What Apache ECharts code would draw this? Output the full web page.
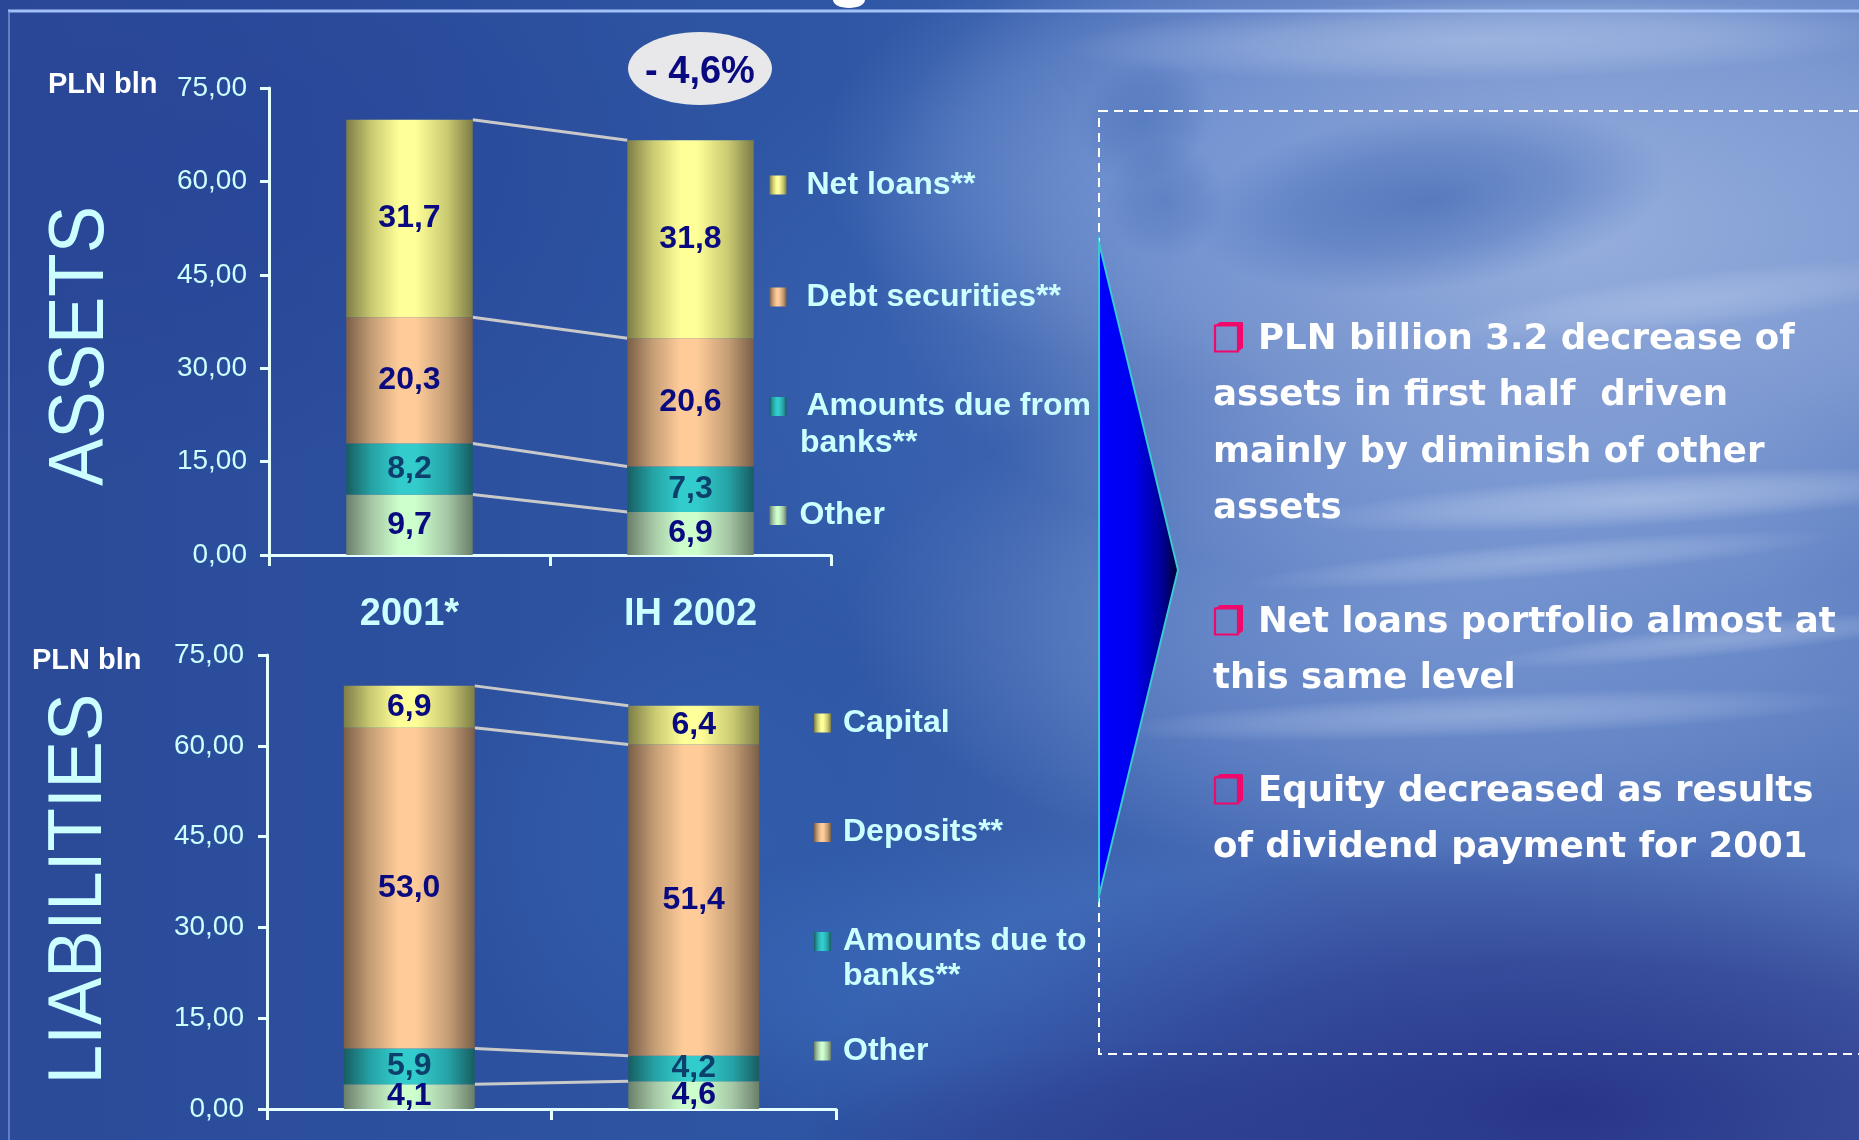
<!DOCTYPE html>
<html>
<head>
<meta charset="utf-8">
<script src="https://cdn.jsdelivr.net/npm/echarts@6/dist/echarts.min.js"></script>
<style>
  html, body { margin: 0; padding: 0; background: #2d4f9e; }
  #chart { width: 1859px; height: 1140px; }
</style>
</head>
<body>
<div id="chart"></div>
<script>
// ---- data -------------------------------------------------------------
const categories = ['2001*', 'IH 2002'];

// assets, PLN bln (bottom to top of the stack)
const assetOther = [9.7, 6.9];
const assetDueFromBanks = [8.2, 7.3];
const assetDebtSecurities = [20.3, 20.6];
const assetNetLoans = [31.7, 31.8];

// liabilities, PLN bln (bottom to top of the stack)
const liabOther = [4.1, 4.6];
const liabDueToBanks = [5.9, 4.2];
const liabDeposits = [53.0, 51.4];
const liabCapital = [6.9, 6.4];

// value axis
const axisMin = 0;
const axisMax = 75;
const axisStep = 15;

const assetChange = '- 4,6%';

const bullets = [
  ['PLN billion 3.2 decrease of', 'assets in first half  driven', 'mainly by diminish of other', 'assets'],
  ['Net loans portfolio almost at', 'this same level'],
  ['Equity decreased as results', 'of dividend payment for 2001']
];

// ---- helpers ----------------------------------------------------------
const SANS = 'Liberation Sans, Arial, sans-serif';
const LIGHT = '#ccffff';
const NAVY = '#0a0a80';
const TEALTEXT = '#0d3f6c';

const fmt1 = v => v.toFixed(1).replace('.', ',');
const fmt2 = v => v.toFixed(2).replace('.', ',');

function cylinder(edge, mid, light) {
  return new echarts.graphic.LinearGradient(0, 0, 1, 0, [
    { offset: 0, color: edge },
    { offset: 0.2, color: mid },
    { offset: 0.42, color: light },
    { offset: 0.55, color: light },
    { offset: 0.8, color: mid },
    { offset: 1, color: edge }
  ]);
}
const YELLOW = ['#7d7d47', '#c9c971', '#ffff99'];
const PEACH = ['#7a5f47', '#c49d75', '#ffcc99'];
const TEAL = ['#175d61', '#25a2a5', '#33cccc'];
const GREEN = ['#6a7f69', '#a5c6a5', '#ccffcc'];

function cumulative(layers) {
  const out = [];
  let run = layers[0].map(() => 0);
  layers.forEach(l => {
    run = run.map((r, i) => r + l[i]);
    out.push(run.slice());
  });
  return out;
}

function bar(name, data, grid, stack, colors, labelColor, width) {
  return {
    name, type: 'bar', stack, data,
    xAxisIndex: grid, yAxisIndex: grid,
    barWidth: width,
    itemStyle: { color: cylinder(colors[0], colors[1], colors[2]) },
    label: {
      show: true, position: 'inside',
      formatter: p => fmt1(p.value),
      color: labelColor, fontSize: 32, fontWeight: 'bold', fontFamily: SANS
    },
    emphasis: { disabled: true },
    z: 3
  };
}

// thin lines joining matching stack levels of the two bars
function connectors(grid, layers, ratio) {
  const cum = cumulative(layers);
  return {
    type: 'custom', xAxisIndex: grid, yAxisIndex: grid, silent: true, z: 2,
    data: cum.map(c => [0, c[0], c[1]]),
    encode: { x: 0, y: [1, 2] },
    renderItem(params, api) {
      const half = api.size([1, 0])[0] * ratio / 2;
      const a = api.coord([0, api.value(1)]);
      const b = api.coord([1, api.value(2)]);
      return {
        type: 'line',
        shape: { x1: a[0] + half, y1: a[1], x2: b[0] - half, y2: b[1] },
        style: { stroke: '#c9c9c9', lineWidth: 3 }
      };
    }
  };
}

function xAxis(grid, showLabels) {
  return {
    gridIndex: grid, type: 'category', data: categories,
    axisLine: { lineStyle: { color: '#e6ffff', width: 3 } },
    axisTick: { show: true, length: 11, lineStyle: { color: '#e6ffff', width: 3 } },
    axisLabel: {
      show: showLabels, margin: 40, lineHeight: 40,
      color: LIGHT, fontSize: 38, fontWeight: 'bold', fontFamily: SANS
    },
    splitLine: { show: false }
  };
}
function yAxis(grid, margin) {
  return {
    gridIndex: grid, type: 'value', min: axisMin, max: axisMax, interval: axisStep,
    axisLine: { show: true, lineStyle: { color: '#e6ffff', width: 3 } },
    axisTick: { show: true, length: 9, lineStyle: { color: '#e6ffff', width: 3 } },
    axisLabel: { formatter: fmt2, margin, color: LIGHT, fontSize: 28, fontFamily: SANS },
    splitLine: { show: false }
  };
}

function legendItem(name, left, top, padLeft, label) {
  return {
    data: [name], left, top, padding: 0, orient: 'vertical',
    itemWidth: 17, itemHeight: 19, icon: 'rect', selectedMode: false,
    formatter: () => label || name,
    textStyle: {
      color: LIGHT, fontSize: 32, fontWeight: 'bold', fontFamily: SANS,
      padding: [0, 0, 0, padLeft]
    }
  };
}

// ---- background & decoration -----------------------------------------
const W = 1859, H = 1140;
// soft elliptical glow: a unit circle with a radial fill, stretched and turned
function glow(cx, cy, rx, ry, rgb, alpha, rot) {
  return {
    type: 'circle', silent: true, z: -19,
    x: cx, y: cy, rotation: rot || 0,
    scaleX: rx / 100, scaleY: ry / 100,
    shape: { cx: 0, cy: 0, r: 100 },
    style: {
      fill: {
        type: 'radial', x: 0.5, y: 0.5, r: 0.5,
        colorStops: [
          { offset: 0, color: `rgba(${rgb},${alpha})` },
          { offset: 0.55, color: `rgba(${rgb},${alpha * 0.6})` },
          { offset: 1, color: `rgba(${rgb},0)` }
        ]
      }
    }
  };
}

const background = [
  {
    type: 'rect', silent: true, z: -20,
    shape: { x: 0, y: 0, width: W, height: H },
    style: {
      fill: new echarts.graphic.LinearGradient(0, 0, 1, 0, [
        { offset: 0, color: '#2b4a98' },
        { offset: 0.45, color: '#2e56a4' },
        { offset: 0.66, color: '#4569b4' },
        { offset: 1, color: '#5577bc' }
      ])
    }
  },
  // light haze on the right half
  glow(1560, 230, 700, 380, '175,196,235', 0.75),
  glow(1450, 620, 600, 260, '150,178,228', 0.55),
  glow(1120, 160, 300, 200, '120,155,218', 0.5),
  glow(860, 380, 220, 300, '70,115,195', 0.3),
  glow(1020, 990, 380, 160, '70,125,205', 0.45),
  glow(700, 840, 260, 260, '58,108,188', 0.35),
  // darker patches
  glow(1430, 200, 240, 90, '45,88,170', 0.55, 0.12),
  glow(1145, 120, 70, 60, '45,85,165', 0.3, 0.6),
  glow(1165, 200, 60, 60, '45,85,165', 0.28, 0.3),
  glow(1560, 1110, 760, 270, '38,50,134', 0.95),
  glow(1200, 1150, 420, 110, '42,58,140', 0.6),
  glow(200, 160, 520, 320, '38,62,148', 0.45),
  // white wisps
  glow(1640, 500, 340, 26, '235,242,255', 0.35, 0.06),
  glow(1540, 560, 300, 18, '235,242,255', 0.25, 0.08),
  glow(1480, 715, 380, 22, '235,242,255', 0.28, 0.04),
  glow(1720, 640, 240, 16, '235,242,255', 0.25, 0.1),
  glow(1700, 300, 260, 28, '235,242,255', 0.22, 0.12),
  glow(1480, 40, 420, 40, '220,232,252', 0.35, 0.02),
  // slide frame
  {
    type: 'line', silent: true, z: -5,
    shape: { x1: 8, y1: 11, x2: W, y2: 11 },
    style: { stroke: 'rgba(175,205,255,0.9)', lineWidth: 3 }
  },
  {
    type: 'line', silent: true, z: -5,
    shape: { x1: 9, y1: 11, x2: 9, y2: H },
    style: { stroke: 'rgba(120,150,215,0.7)', lineWidth: 2 }
  },
  {
    type: 'ellipse', silent: true, z: -5,
    shape: { cx: 849, cy: 0, rx: 16, ry: 8 },
    style: { fill: '#ffffff' }
  }
];

function bulletIcon(x, y) {
  const c = '#f0086a';
  return [
    { type: 'rect', z: 10, shape: { x: x, y: y + 3.5, width: 23, height: 26 },
      style: { fill: 'none', stroke: c, lineWidth: 2.2 } },
    { type: 'polygon', z: 10, shape: { points: [[x, y + 3.5], [x + 5, y], [x + 28, y], [x + 23, y + 3.5]] },
      style: { fill: c } },
    { type: 'polygon', z: 10, shape: { points: [[x + 23, y + 3.5], [x + 28, y], [x + 28, y + 26], [x + 23, y + 29.5]] },
      style: { fill: c } }
  ];
}

const bulletFont = 'bold 35.6px "DejaVu Sans", Verdana, sans-serif';
const paraTops = [340, 623, 792];
const lineStep = 56.2;
const textBlock = [];
bullets.forEach((lines, p) => {
  textBlock.push(...bulletIcon(1215, paraTops[p] - 18));
  lines.forEach((t, i) => {
    textBlock.push({
      type: 'text', z: 10, x: i === 0 ? 1258 : 1213, y: paraTops[p] + i * lineStep,
      style: { text: t, font: bulletFont, fill: '#ffffff', align: 'left', verticalAlign: 'middle' }
    });
  });
});

const overlay = [
  // dashed comment box
  {
    type: 'rect', z: 5, silent: true,
    shape: { x: 1099, y: 111, width: 820, height: 943 },
    style: { fill: 'none', stroke: '#ffffff', lineWidth: 2, lineDash: [9, 6] }
  },
  // pointer
  {
    type: 'polygon', z: 6, silent: true,
    shape: { points: [[1099, 243], [1178, 570], [1099, 896]] },
    style: {
      fill: new echarts.graphic.LinearGradient(0, 0, 1, 0, [
        { offset: 0, color: '#0000ff' },
        { offset: 0.45, color: '#0000ee' },
        { offset: 0.78, color: '#00009a' },
        { offset: 1, color: '#000030' }
      ]),
      stroke: '#3cc8d0', lineWidth: 2
    }
  },
  // change bubble
  {
    type: 'ellipse', z: 6, silent: true,
    shape: { cx: 700, cy: 68.5, rx: 72, ry: 36.5 },
    style: { fill: '#e8e8ea' }
  },
  {
    type: 'text', z: 7, x: 700, y: 73,
    style: { text: assetChange, font: `bold 38px ${SANS}`, fill: NAVY, align: 'center', verticalAlign: 'middle' }
  },
  // unit captions
  {
    type: 'text', z: 7, x: 48, y: 85,
    style: { text: 'PLN bln', font: `bold 29px ${SANS}`, fill: '#ffffff', align: 'left', verticalAlign: 'middle' }
  },
  {
    type: 'text', z: 7, x: 32, y: 661,
    style: { text: 'PLN bln', font: `bold 29px ${SANS}`, fill: '#ffffff', align: 'left', verticalAlign: 'middle' }
  },
  // section headings
  {
    type: 'text', z: 7, x: 81, y: 346, rotation: Math.PI / 2, scaleY: 1.1,
    style: { text: 'ASSETS', font: `71px ${SANS}`, fill: LIGHT, align: 'center', verticalAlign: 'middle' }
  },
  {
    type: 'text', z: 7, x: 80, y: 889, rotation: Math.PI / 2, scaleY: 1.07,
    style: { text: 'LIABILITIES', font: `71px ${SANS}`, fill: LIGHT, align: 'center', verticalAlign: 'middle' }
  },
  // second lines of the two-line legend entries
  {
    type: 'text', z: 7, x: 800, y: 443,
    style: { text: 'banks**', font: `bold 32px ${SANS}`, fill: LIGHT, align: 'left', verticalAlign: 'middle' }
  },
  {
    type: 'text', z: 7, x: 843, y: 976,
    style: { text: 'banks**', font: `bold 32px ${SANS}`, fill: LIGHT, align: 'left', verticalAlign: 'middle' }
  }
];

// ---- chart ------------------------------------------------------------
const chart = echarts.init(document.getElementById('chart'), null, { renderer: 'canvas' });

const assetLayers = [assetOther, assetDueFromBanks, assetDebtSecurities, assetNetLoans];
const liabLayers = [liabOther, liabDueToBanks, liabDeposits, liabCapital];

chart.setOption({
  animation: false,
  backgroundColor: '#2d4f9e',
  textStyle: { fontFamily: SANS },
  grid: [
    { left: 269, top: 88, width: 562, height: 467 },
    { left: 267, top: 655, width: 569, height: 454 }
  ],
  xAxis: [xAxis(0, true), xAxis(1, false)],
  yAxis: [yAxis(0, 22), yAxis(1, 23)],
  legend: [
    legendItem('Net loans**', 769.5, 169, 15),
    legendItem('Debt securities**', 769.5, 281, 15),
    legendItem('Amounts due from banks**', 769.5, 390.5, 15, 'Amounts due from'),
    legendItem('Other', 769.5, 499.5, 8),
    legendItem('Capital', 814, 707, 7),
    legendItem('Deposits**', 814, 816.5, 7),
    legendItem('Amounts due to banks**', 814, 925.5, 7, 'Amounts due to'),
    legendItem('Other', 814, 1035, 7)
  ],
  graphic: { elements: [...background, ...overlay, ...textBlock] },
  series: [
    bar('Other', assetOther, 0, 'assets', GREEN, NAVY, '45%'),
    bar('Amounts due from banks**', assetDueFromBanks, 0, 'assets', TEAL, TEALTEXT, '45%'),
    bar('Debt securities**', assetDebtSecurities, 0, 'assets', PEACH, NAVY, '45%'),
    bar('Net loans**', assetNetLoans, 0, 'assets', YELLOW, NAVY, '45%'),
    connectors(0, assetLayers, 0.45),

    bar('Other', liabOther, 1, 'liab', GREEN, NAVY, '46%'),
    bar('Amounts due to banks**', liabDueToBanks, 1, 'liab', TEAL, TEALTEXT, '46%'),
    bar('Deposits**', liabDeposits, 1, 'liab', PEACH, NAVY, '46%'),
    bar('Capital', liabCapital, 1, 'liab', YELLOW, NAVY, '46%'),
    connectors(1, liabLayers, 0.46)
  ]
});
</script>
</body>
</html>
